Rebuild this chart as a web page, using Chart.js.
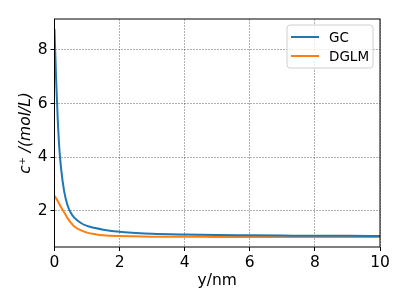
<!DOCTYPE html>
<html lang="en">
<head>
    <meta charset="UTF-8">
    <title>GC vs DGLM</title>
    <script src="https://cdn.jsdelivr.net/npm/chart.js"></script>
    <style>
        html, body { margin: 0; padding: 0; background: #fff; }
        #wrap { width: 407px; height: 305px; }
    </style>
</head>
<body>
    <div id="wrap">
        <canvas id="concChart" width="407" height="305"></canvas>
    </div>

    <script>
        // values
        const distance = [0, 0.05, 0.1, 0.15, 0.2, 0.3, 0.4, 0.5, 0.6, 0.8, 1.0, 1.25, 1.5, 2, 2.5, 3, 4, 5, 6, 7, 8, 9, 10];
        const gcValues = [8.78, 6.9, 5.4, 4.3, 3.6, 2.7, 2.2, 1.92, 1.75, 1.55, 1.43, 1.35, 1.29, 1.21, 1.17, 1.14, 1.11, 1.09, 1.08, 1.07, 1.06, 1.06, 1.05];
        const dglmValues = [2.55, 2.46, 2.36, 2.24, 2.13, 1.93, 1.72, 1.55, 1.42, 1.27, 1.18, 1.12, 1.08, 1.05, 1.04, 1.03, 1.03, 1.02, 1.02, 1.02, 1.02, 1.02, 1.02];
        const seriesNames = ['GC', 'DGLM'];
        const xTicks = [0, 2, 4, 6, 8, 10];
        const yTicks = [2, 4, 6, 8];

        const font = 'DejaVu Sans';

        const toPoints = vals => vals.map((v, i) => ({ x: distance[i], y: v }));

        // axes frame + boxed legend inside the plot, matplotlib style
        const framePlugin = {
            id: 'frame',
            afterDatasetsDraw(chart) {
                const { ctx, chartArea: a } = chart;
                ctx.save();
                ctx.strokeStyle = '#000';
                ctx.lineWidth = 1;
                ctx.strokeRect(a.left, a.top, a.right - a.left, a.bottom - a.top);

                // legend
                const bx = 287, by = 25, bw = 86, bh = 43, r = 3;
                ctx.fillStyle = 'rgba(255,255,255,0.8)';
                ctx.strokeStyle = '#d0d0d0';
                ctx.beginPath();
                ctx.roundRect(bx, by, bw, bh, r);
                ctx.fill();
                ctx.stroke();
                ctx.font = '13.5px "' + font + '"';
                ctx.textBaseline = 'middle';
                chart.data.datasets.forEach((ds, i) => {
                    const y = 37 + i * 19;
                    ctx.strokeStyle = ds.borderColor;
                    ctx.lineWidth = 2;
                    ctx.beginPath();
                    ctx.moveTo(291, y);
                    ctx.lineTo(319, y);
                    ctx.stroke();
                    ctx.fillStyle = '#000';
                    ctx.fillText(ds.label, 329, y + 1);
                });
                ctx.restore();
            }
        };

        const gridOpts = {
            color: 'rgba(0,0,0,0.35)',
            lineWidth: 0.9,
            tickColor: '#000',
            tickLength: 4,
            tickWidth: 1
        };

        const ctx = document.getElementById('concChart').getContext('2d');
        const concChart = new Chart(ctx, {
            type: 'line',
            data: {
                datasets: [{
                    label: seriesNames[0],
                    data: toPoints(gcValues),
                    borderColor: '#1f77b4',
                    borderWidth: 2,
                    pointRadius: 0,
                    cubicInterpolationMode: 'monotone',
                    fill: false
                }, {
                    label: seriesNames[1],
                    data: toPoints(dglmValues),
                    borderColor: '#ff7f0e',
                    borderWidth: 2,
                    pointRadius: 0,
                    cubicInterpolationMode: 'monotone',
                    fill: false
                }]
            },
            options: {
                responsive: false,
                animation: false,
                layout: { padding: { top: 19, right: 27, left: 0, bottom: 0 } },
                plugins: {
                    legend: { display: false },
                    tooltip: { enabled: false }
                },
                scales: {
                    x: {
                        type: 'linear',
                        min: 0,
                        max: 10,
                        afterFit: s => { s.height = 58; },
                        afterBuildTicks: s => { s.ticks = xTicks.map(v => ({ value: v })); },
                        ticks: {
                            color: '#000',
                            font: { family: font, size: 15.5 },
                            padding: 3,
                            maxRotation: 0
                        },
                        grid: gridOpts,
                        border: { display: false, dash: [2, 1] },
                        title: {
                            display: true,
                            text: 'y/nm',
                            color: '#000',
                            font: { family: font, size: 15.5 },
                            padding: { top: 0, bottom: 15 }
                        }
                    },
                    y: {
                        min: 0.643,
                        max: 9.157,
                        afterFit: s => { s.width = 54.5; },
                        afterBuildTicks: s => { s.ticks = yTicks.map(v => ({ value: v })); },
                        ticks: {
                            color: '#000',
                            font: { family: font, size: 15.5 },
                            padding: 3
                        },
                        grid: gridOpts,
                        border: { display: false, dash: [2, 1] },
                        title: {
                            display: true,
                            text: 'c\u207A /(mol/L)',
                            color: '#000',
                            font: { family: font, size: 15.5, style: 'italic' },
                            padding: { top: 17, bottom: 0 }
                        }
                    }
                }
            },
            plugins: [framePlugin]
        });
    </script>
</body>
</html>
